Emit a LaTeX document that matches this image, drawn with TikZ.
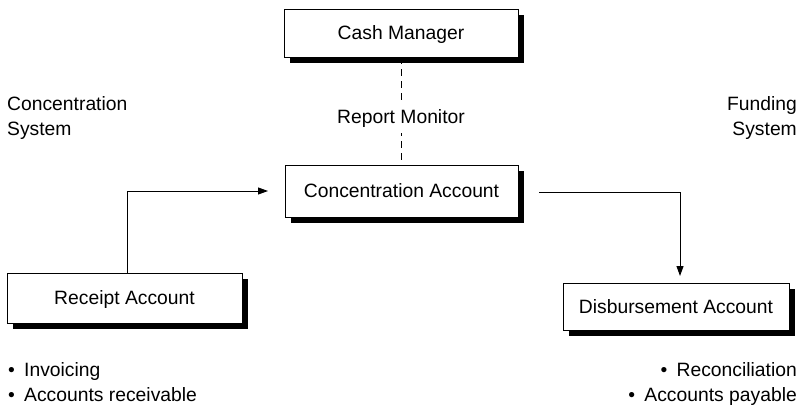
\documentclass[tikz,border=0pt]{standalone}
\usepackage{fontspec}
\setmainfont{Liberation Sans}
\usetikzlibrary{arrows.meta,shadows}
\newcommand{\itembullet}{\makebox[18pt][l]{\hspace{2pt}\textbullet}}
\begin{document}
\begin{tikzpicture}[x=1pt,y=-1pt,
  every node/.style={font=\fontsize{19.3}{26}\selectfont, inner sep=0pt},
  acct/.style={draw, line width=0.8pt, fill=white, rectangle,
    text height=13.8pt, text depth=0pt,
    drop shadow={shadow xshift=5.5pt, shadow yshift=-5.5pt, fill=black, opacity=1}},
  flow/.style={line width=0.9pt, -{Triangle[length=10pt,width=7pt]}},
  link/.style={line width=0.7pt, dash pattern=on 7pt off 5pt},
  lbl/.style={align=left, anchor=base west},
  rlbl/.style={align=right, anchor=base east}]
  \useasboundingbox (0,0) rectangle (799,407);

  % account boxes
  \node[acct, minimum width=234pt, minimum height=48pt] (cash) at (401,33) {Cash Manager};
  \node[acct, minimum width=233pt, minimum height=52pt] (conc) at (401.5,191) {Concentration Account};
  \node[acct, minimum width=235pt, minimum height=50pt] (rec) at (124.5,298) {Receipt Account};
  \node[acct, minimum width=226pt, minimum height=47pt] (disb) at (676,306.5) {Disbursement Account};

  % reporting link
  \draw[link] (cash.south -| 401.5,0) -- (conc.north -| 401.5,0);
  \node[fill=white, inner xsep=4pt, inner ysep=6pt, anchor=base] (rep) at (401,123) {Report Monitor};

  % funds flow
  \coordinate (intip) at (268,191);
  \coordinate (outstart) at (539,192);
  \coordinate (outtip) at (680,276);
  \draw[flow] (rec.north -| 127,0) |- (intip);
  \draw[flow] (outstart) -| (outtip);

  % side captions (anchored on the baseline of the last line)
  \node[lbl] (csys) at (7,135.5) {Concentration\\[-1pt]System};
  \node[rlbl] (fsys) at (797,135.5) {Funding\\[-1pt]System};
  \node[lbl] (rnotes) at (6,401) {\itembullet Invoicing\\[-1pt]\itembullet Accounts receivable};
  \node[rlbl] (dnotes) at (797,401) {\itembullet Reconciliation\\[-1pt]\itembullet Accounts payable};
\end{tikzpicture}
\end{document}
